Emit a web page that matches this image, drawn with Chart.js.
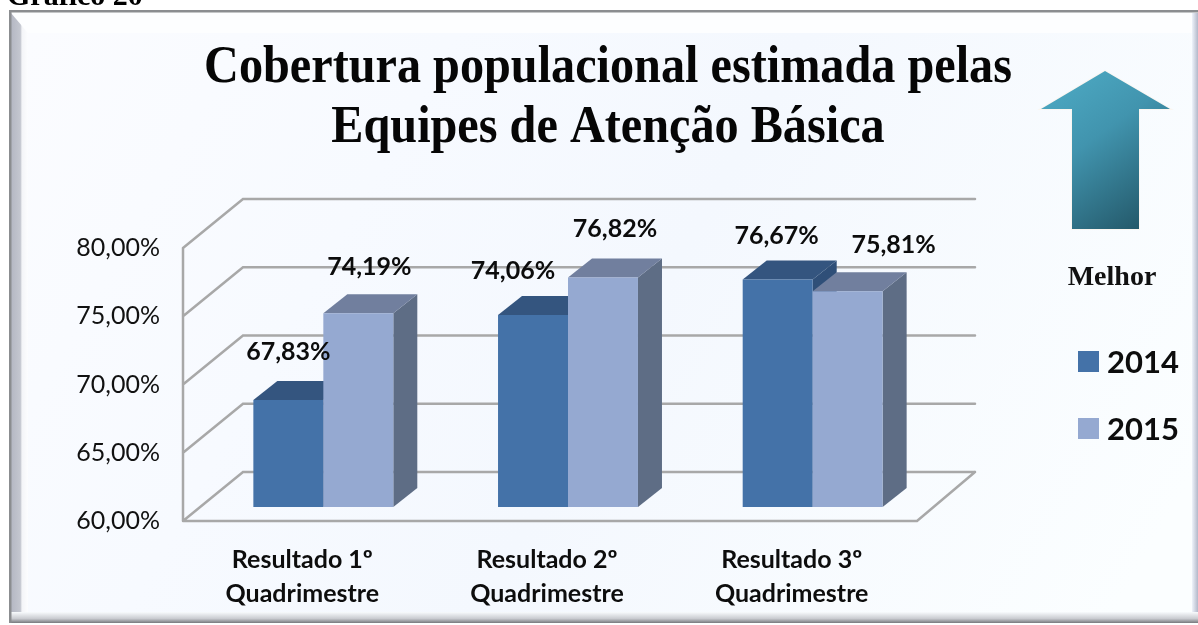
<!DOCTYPE html>
<html><head><meta charset="utf-8">
<script src="https://cdn.jsdelivr.net/npm/chart.js@4"></script>
<style>html,body{margin:0;padding:0;background:#fff;overflow:hidden}canvas{display:block}</style>
</head><body><canvas id="c" width="1198" height="625"></canvas>
<script>
const categories = [['Resultado 1º','Quadrimestre'],['Resultado 2º','Quadrimestre'],['Resultado 3º','Quadrimestre']];
const values2014 = [67.83, 74.06, 76.67];
const values2015 = [74.19, 76.82, 75.81];
const seriesNames = ['2014','2015'];
const titleLines = ['Cobertura populacional estimada pelas','Equipes de Atenção Básica'];
const caption = 'Gráfico 20';
const arrowLabel = 'Melhor';

const fmt = v => v.toFixed(2).replace('.',',') + '%';
const BAR_SHIFT = {x:18, y:-14};
const BAR_DEPTH = {x:24, y:-19};
const WALL = {x:60, y:-49};
const LABEL_NUDGE = [[[0,-48],[-20,-44],[-1,-44]],[[11,-46],[12,-48],[46,-46]]];
const FACES = [{top:'#34557f',side:'#2f4f78'},{top:'#717f9e',side:'#5e6d85'}];

const scene = {
  id:'scene',
  beforeDraw(chart){
    const c = chart.ctx, {left,right,bottom} = chart.chartArea, y = chart.scales.y;
    c.save();
    // frame
    c.fillStyle='#fff'; c.fillRect(0,0,1198,625);
    c.fillStyle='#fdfeff'; c.fillRect(10,11,1188,612);
    let g = c.createLinearGradient(28,33,1100,640);
    g.addColorStop(0,'#fbfcff'); g.addColorStop(.3,'#f7faff'); g.addColorStop(.55,'#f4f8fe'); g.addColorStop(1,'#fbfeff');
    c.fillStyle=g; c.fillRect(28,33,1165,582);
    g = c.createLinearGradient(11,0,28,0);
    g.addColorStop(0,'#b4b7c3'); g.addColorStop(.55,'#c4c7d0'); g.addColorStop(.65,'#f4f5f8'); g.addColorStop(1,'#fcfdff');
    c.fillStyle=g; c.beginPath(); c.moveTo(11,13); c.lineTo(28,33); c.lineTo(28,615); c.lineTo(11,622); c.fill();
    g = c.createLinearGradient(1192,0,1198,0);
    g.addColorStop(0,'#eef3fb'); g.addColorStop(1,'#b3b8c9');
    c.fillStyle=g; c.fillRect(1192,13,6,608);
    g = c.createLinearGradient(0,612,0,623);
    g.addColorStop(0,'#f8fbfd'); g.addColorStop(.6,'#c9cbd0'); g.addColorStop(1,'#77797d');
    c.fillStyle=g; c.fillRect(11,612,1187,11);
    c.fillStyle='#8b8d90'; c.fillRect(9,10,1189,2.5); c.fillRect(9,10,2.5,613);
    // caption
    c.fillStyle='#000'; c.font='bold 30px "Liberation Serif"'; c.textAlign='left'; c.textBaseline='alphabetic';
    c.fillText(caption,7,5);
    // title
    c.fillStyle='#060606'; c.font='bold 53px "Liberation Serif"'; c.textAlign='center'; c.textBaseline='middle';
    titleLines.forEach((t,i)=>c.fillText(t,608,68+i*60,c.measureText(t).width*.91));
    // arrow
    g = c.createLinearGradient(1050,85,1150,225);
    g.addColorStop(0,'#4ca8c2'); g.addColorStop(.4,'#4194ae'); g.addColorStop(1,'#235768');
    c.beginPath(); c.moveTo(1105,71); c.lineTo(1170,109); c.lineTo(1139,109); c.lineTo(1139,229); c.lineTo(1072,229); c.lineTo(1072,109); c.lineTo(1041,109); c.closePath();
    c.strokeStyle='rgba(250,245,240,.9)'; c.lineWidth=2; c.stroke();
    c.fillStyle=g; c.fill();
    c.fillStyle='#111'; c.font='bold 28px "Liberation Serif"'; c.fillText(arrowLabel,1112,278);
    // legend
    chart.data.datasets.forEach((d,i)=>{
      const ly = 362+i*67;
      c.fillStyle=d.backgroundColor; c.fillRect(1078,ly-11,21,21);
      c.fillStyle='#0d0d0d'; c.font='bold 31px Lato'; c.textAlign='left';
      c.fillText(d.label,1107,ly+1);
    });
    c.textAlign='center';
    // 3D walls from the value scale
    c.strokeStyle='#a8a8a8'; c.lineWidth=2.5; c.lineCap='round';
    c.beginPath(); c.moveTo(left,y.getPixelForValue(80)); c.lineTo(left,bottom);
    y.ticks.forEach(t=>{
      const p=y.getPixelForValue(t.value);
      c.moveTo(left,p); c.lineTo(left+WALL.x,p+WALL.y); c.lineTo(right+WALL.x-2,p+WALL.y);
    });
    c.moveTo(left,bottom); c.lineTo(right,bottom); c.lineTo(right+WALL.x-2,bottom+WALL.y);
    c.stroke();
    c.restore();
  },
  // series are painted back to front: 2014 first, so the 2015 bar overlaps it
  beforeDatasetsDraw(chart){
    const c = chart.ctx;
    chart.data.datasets.forEach((d,i)=>{
      const f = FACES[i], meta = chart.getDatasetMeta(i);
      c.save();
      c.translate(BAR_SHIFT.x,BAR_SHIFT.y);
      meta.data.forEach(b=>{
        const l=b.x-b.width/2, r=b.x+b.width/2, dx=BAR_DEPTH.x, dy=BAR_DEPTH.y;
        c.fillStyle=f.side; c.beginPath(); c.moveTo(r,b.y); c.lineTo(r+dx,b.y+dy); c.lineTo(r+dx,b.base+dy); c.lineTo(r,b.base); c.closePath(); c.fill();
        c.fillStyle=f.top; c.beginPath(); c.moveTo(l,b.y); c.lineTo(l+dx,b.y+dy); c.lineTo(r+dx,b.y+dy); c.lineTo(r,b.y); c.closePath(); c.fill();
      });
      meta.controller.draw();
      c.restore();
    });
  },
  beforeDatasetDraw(){ return false; },
  afterDatasetsDraw(chart){
    const c = chart.ctx;
    c.save();
    c.fillStyle='#0c0c0c'; c.font='bold 25px Lato'; c.textAlign='center'; c.textBaseline='middle';
    chart.data.datasets.forEach((d,i)=>{
      chart.getDatasetMeta(i).data.forEach((b,j)=>{
        const n=LABEL_NUDGE[i][j];
        c.fillText(fmt(d.data[j]), b.x+BAR_SHIFT.x+n[0], b.y+BAR_SHIFT.y+n[1]);
      });
    });
    c.restore();
  }
};

new Chart(document.getElementById('c'),{
  type:'bar',
  data:{labels:categories,datasets:[
    {label:seriesNames[0],data:values2014,backgroundColor:'#4472a8',base:60},
    {label:seriesNames[1],data:values2015,backgroundColor:'#95a9d1',base:60}
  ]},
  options:{
    responsive:false,animation:false,
    layout:{padding:{top:248,right:281,left:0,bottom:0}},
    datasets:{bar:{categoryPercentage:.572,barPercentage:1,borderWidth:0}},
    plugins:{legend:{display:false},title:{display:false},tooltip:{enabled:false}},
    scales:{
      x:{grid:{display:false,drawTicks:false},border:{display:false},
         ticks:{color:'#0d0d0d',maxRotation:0,autoSkip:false,padding:22,labelOffset:-3,font:{family:'Lato',weight:'bold',size:25,lineHeight:1.36}},
         afterFit(s){s.height=104;}},
      y:{min:60,max:80,grid:{display:false,drawTicks:false},border:{display:false},
         ticks:{stepSize:5,color:'#111',padding:23,font:{family:'Lato',size:25},callback:v=>fmt(v)},
         afterFit(s){s.width=183;}}
    }
  },
  plugins:[scene]
});
</script></body></html>
